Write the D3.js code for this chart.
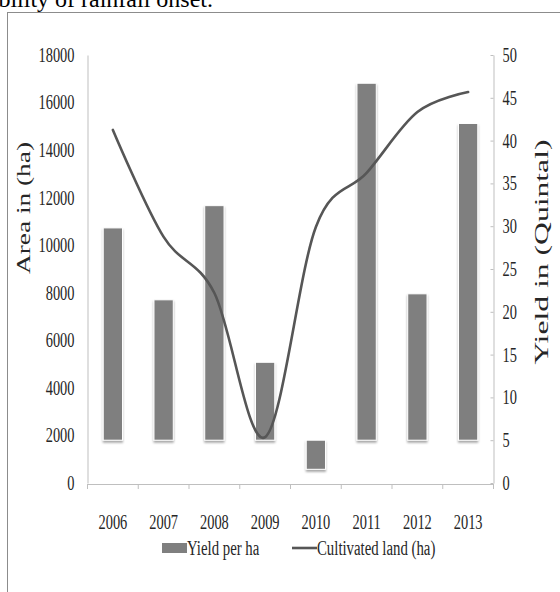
<!DOCTYPE html>
<html>
<head>
<meta charset="utf-8">
<script src="https://cdn.jsdelivr.net/npm/d3@7"></script>
<style>
  body { margin: 0; background: #fff; }
  svg { display: block; font-family: "Liberation Serif", "DejaVu Serif", serif; }
</style>
</head>
<body>
<script>
const years = ['2006', '2007', '2008', '2009', '2010', '2011', '2012', '2013'];
const yieldPerHa = [29.8, 21.4, 32.4, 14.1, 1.6, 46.7, 22.1, 42.0];   // bars, right axis
const cultivatedLand = [14850, 10350, 7990, 1930, 10770, 13040, 15600, 16440]; // line, left axis
const areaTicks = [0, 2000, 4000, 6000, 8000, 10000, 12000, 14000, 16000, 18000];
const yieldTicks = [0, 5, 10, 15, 20, 25, 30, 35, 40, 45, 50];
const yieldBase = 5; // bars hang off the 5 quintal line, like the source

const width = 560, height = 592;
const margin = {top: 55, right: 66.5, bottom: 109, left: 87.5};
const innerW = width - margin.left - margin.right;
const innerH = height - margin.top - margin.bottom;
const serif = '"Liberation Serif", "DejaVu Serif", serif';

const svg = d3.select('body').append('svg').attr('width', width).attr('height', height);

// squash text horizontally, the source picture is narrowed
function squeeze(sel, k) {
  sel.each(function() {
    const len = this.getComputedTextLength();
    d3.select(this).attr('textLength', len * k).attr('lengthAdjust', 'spacingAndGlyphs');
  });
}

const defs = svg.append('defs');
const shadow = defs.append('filter').attr('id', 'shadow')
  .attr('x', '-30%').attr('y', '-10%').attr('width', '160%').attr('height', '130%');
shadow.append('feDropShadow').attr('dx', 0).attr('dy', 2).attr('stdDeviation', 1.3)
  .attr('flood-color', '#000').attr('flood-opacity', 0.35);

// cut-off line of text from the page above the figure
svg.append('text').attr('x', 213).attr('y', 7).attr('text-anchor', 'end')
  .style('font-size', '24px').attr('fill', '#000').text('bility of rainfall onset.');

// figure frame
svg.append('rect').attr('x', 7.5).attr('y', 12.5).attr('width', 560).attr('height', 600)
  .attr('fill', 'none').attr('stroke', '#8c8c8c').attr('stroke-width', 1);

const g = svg.append('g').attr('transform', `translate(${margin.left},${margin.top})`);

const x = d3.scaleBand().domain(years).range([0, innerW]).paddingInner(0.62).paddingOuter(0.31);
const yL = d3.scaleLinear().domain([0, 18000]).range([innerH, 0]);
const yR = d3.scaleLinear().domain([0, 50]).range([innerH, 0]);

function styleAxis(ax) {
  ax.attr('font-family', serif).attr('font-size', null);
  ax.select('.domain').attr('stroke', '#bfbfbf');
  ax.selectAll('text').style('font-size', '20px').attr('fill', '#262626');
}

// left axis (no ticks)
const leftAxis = g.append('g')
  .call(d3.axisLeft(yL).tickValues(areaTicks).tickFormat(d3.format('d')).tickSize(0).tickPadding(13));
styleAxis(leftAxis);

// right axis
const rightAxis = g.append('g').attr('transform', `translate(${innerW},0)`)
  .call(d3.axisRight(yR).tickValues(yieldTicks).tickSizeInner(0).tickSizeOuter(0).tickPadding(9));
styleAxis(rightAxis);
rightAxis.selectAll('.tick').append('line').attr('x1', -3).attr('x2', 0).attr('stroke', '#bfbfbf');

// bottom axis: labels at centres, ticks at category boundaries
const bottomAxis = g.append('g').attr('transform', `translate(0,${innerH + 1})`)
  .call(d3.axisBottom(x).tickSize(0).tickPadding(31));
styleAxis(bottomAxis);
const step = x.step();
const bounds = years.map(d => x(d) - (step - x.bandwidth()) / 2).concat([innerW]);
bottomAxis.selectAll('.bound').data(bounds).join('line').attr('class', 'bound')
  .attr('x1', d => d).attr('x2', d => d).attr('y1', 0).attr('y2', 5).attr('stroke', '#bfbfbf');

// bars
g.append('g').selectAll('rect').data(years).join('rect')
  .attr('x', d => x(d))
  .attr('width', x.bandwidth())
  .attr('y', (d, i) => Math.min(yR(yieldPerHa[i]), yR(yieldBase)))
  .attr('height', (d, i) => Math.abs(yR(yieldPerHa[i]) - yR(yieldBase)))
  .attr('fill', '#7f7f7f')
  .attr('stroke', '#fff').attr('stroke-width', 1)
  .attr('filter', 'url(#shadow)');

// cultivated land line
const line = d3.line()
  .x((d, i) => x(years[i]) + x.bandwidth() / 2)
  .y(d => yL(d))
  .curve(d3.curveCardinal.tension(0));
g.append('path').datum(cultivatedLand).attr('d', line)
  .attr('fill', 'none').attr('stroke', '#565656').attr('stroke-width', 2.6).attr('stroke-linecap', 'round');

// axis titles
svg.append('text').attr('class', 'title')
  .attr('transform', 'translate(30,208) rotate(-90)').attr('text-anchor', 'middle')
  .style('font-size', '19px').attr('fill', '#262626').attr('textLength', 132).attr('lengthAdjust', 'spacingAndGlyphs')
  .text('Area  in (ha)');
svg.append('text').attr('class', 'title')
  .attr('transform', 'translate(548,252) rotate(-90)').attr('text-anchor', 'middle')
  .style('font-size', '19px').attr('fill', '#262626').attr('textLength', 225).attr('lengthAdjust', 'spacingAndGlyphs')
  .text('Yield in (Quintal)');

// legend
const legend = svg.append('g').attr('transform', 'translate(0,548)');
legend.append('rect').attr('x', 162).attr('y', -5).attr('width', 25).attr('height', 10).attr('fill', '#7f7f7f');
legend.append('text').attr('x', 187).attr('y', 6.5).style('font-size', '20px').attr('fill', '#262626').text('Yield per ha');
legend.append('line').attr('x1', 292).attr('x2', 317).attr('y1', 0).attr('y2', 0)
  .attr('stroke', '#565656').attr('stroke-width', 2.6);
legend.append('text').attr('x', 317).attr('y', 6.5).style('font-size', '20px').attr('fill', '#262626').text('Cultivated land (ha)');

squeeze(svg.selectAll('.tick text'), 0.72);
squeeze(legend.selectAll('text'), 0.74);
</script>
</body>
</html>
